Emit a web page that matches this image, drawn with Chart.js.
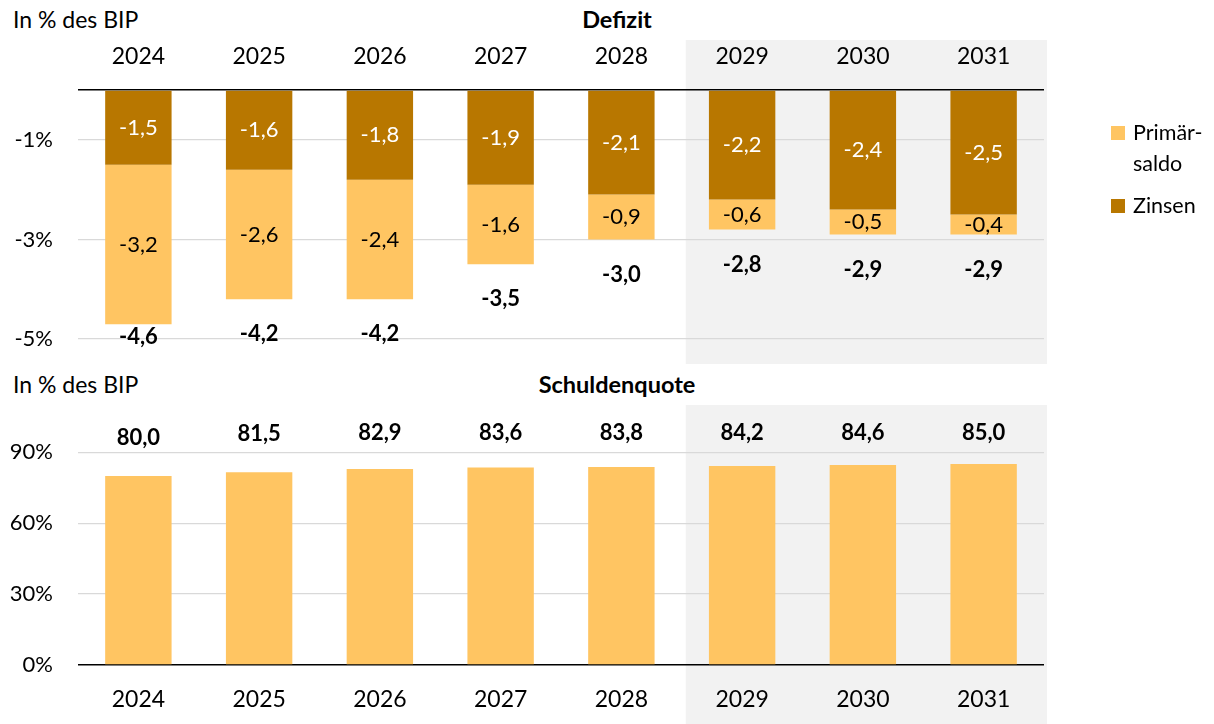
<!DOCTYPE html>
<html>
<head>
<meta charset="utf-8">
<script src="https://cdn.jsdelivr.net/npm/chart.js@4.4.1/dist/chart.umd.min.js"></script>
<style>
  body { margin: 0; background: #fff; font-family: Lato, sans-serif; }
  #wrap { position: relative; width: 1214px; height: 724px; overflow: hidden; }
  .cv { position: absolute; left: 0; }
  .txt { position: absolute; color: #000; white-space: nowrap; }
  .unit { font-size: 23px; left: 13px; }
  .ttl { font-size: 23.5px; font-weight: bold; width: 300px; left: 467px; text-align: center; }
  .leg { position: absolute; left: 1111px; font-size: 21.5px; line-height: 31px; }
  .leg .sq { position: absolute; left: 0; width: 14px; height: 14px; }
  .leg .lb { position: absolute; left: 22px; }
</style>
</head>
<body>
<div id="wrap">
  <div class="txt unit" style="top:5px">In % des BIP</div>
  <div class="txt ttl" style="top:5px">Defizit</div>
  <div class="txt unit" style="top:370px">In % des BIP</div>
  <div class="txt ttl" style="top:370px">Schuldenquote</div>
  <div class="cv" style="top:0;width:1214px;height:368px"><canvas id="deficitChart"></canvas></div>
  <div class="cv" style="top:368px;width:1214px;height:356px"><canvas id="debtChart"></canvas></div>
  <div class="leg" style="top:117px">
    <div class="sq" style="top:9px;background:#FFC562"></div>
    <div class="lb" style="top:0">Primär-<br>saldo</div>
  </div>
  <div class="leg" style="top:190px">
    <div class="sq" style="top:9px;background:#B87700"></div>
    <div class="lb" style="top:0">Zinsen</div>
  </div>
</div>
<script>
const years = ['2024', '2025', '2026', '2027', '2028', '2029', '2030', '2031'];
const forecastFrom = '2029';
const zinsen = [-1.5, -1.6, -1.8, -1.9, -2.1, -2.2, -2.4, -2.5];
const primaersaldo = [-3.2, -2.6, -2.4, -1.6, -0.9, -0.6, -0.5, -0.4];
const defizit = [-4.6, -4.2, -4.2, -3.5, -3.0, -2.8, -2.9, -2.9];
const schuldenquote = [80.0, 81.5, 82.9, 83.6, 83.8, 84.2, 84.6, 85.0];
const deficitTicks = [0, -1, -3, -5];
const debtTicks = [0, 30, 60, 90];

const FONT = 'Lato';
const colZinsen = '#B87700';
const colPrimaer = '#FFC562';
const colGrid = '#D9D9D9';

const fmt = v => v.toFixed(1).replace('.', ',');

// grey band behind the projection years
function shadePlugin(topExtra, bottomExtra) {
    return {
        id: 'shade',
        beforeDraw(chart) {
            const x = chart.scales.x;
            const i = years.indexOf(forecastFrom);
            const left = (x.getPixelForValue(i - 1) + x.getPixelForValue(i)) / 2 + 4;
            const area = chart.chartArea;
            const c = chart.ctx;
            c.save();
            c.fillStyle = '#F2F2F2';
            c.fillRect(left, area.top - topExtra, area.right + 3 - left, area.bottom + bottomExtra - (area.top - topExtra));
            c.restore();
        }
    };
}

const deficitLabels = {
    id: 'deficitLabels',
    afterDatasetsDraw(chart) {
        const c = chart.ctx;
        const area = chart.chartArea;
        c.save();
        c.textAlign = 'center';
        c.textBaseline = 'middle';
        chart.data.datasets.forEach((ds, di) => {
            chart.getDatasetMeta(di).data.forEach((bar, i) => {
                c.font = '22px ' + FONT;
                c.fillStyle = di === 0 ? '#fff' : '#000';
                c.fillText(fmt(ds.data[i]), bar.x, (bar.y + bar.base) / 2);
            });
        });
        // totals below the stack
        chart.getDatasetMeta(1).data.forEach((bar, i) => {
            const bottom = Math.max(bar.y, bar.base);
            const y = Math.min(bottom + 35, area.bottom - 27);
            c.font = 'bold 22px ' + FONT;
            c.fillStyle = '#000';
            c.fillText(fmt(defizit[i]), bar.x, y);
        });
        c.restore();
    }
};

const debtLabels = {
    id: 'debtLabels',
    afterDatasetsDraw(chart) {
        const c = chart.ctx;
        const area = chart.chartArea;
        c.save();
        c.textAlign = 'center';
        c.textBaseline = 'middle';
        c.font = 'bold 22px ' + FONT;
        c.fillStyle = '#000';
        chart.getDatasetMeta(0).data.forEach((bar, i) => {
            const y = Math.max(bar.y - 38, area.top + 28);
            c.fillText(fmt(schuldenquote[i]), bar.x, y);
        });
        c.restore();
    }
};

function yAxis(min, max, tickValues) {
    return {
        min: min,
        max: max,
        afterBuildTicks: s => { s.ticks = tickValues.map(v => ({ value: v })); },
        afterFit: s => {
            s.width = 78;
            // no extra room for the end labels, the layout padding handles it
            s.paddingTop = 0;
            s.paddingBottom = 0;
        },
        border: { display: false },
        grid: {
            drawTicks: false,
            color: ctx => ctx.tick && ctx.tick.value === 0 ? '#000' : colGrid,
            lineWidth: ctx => ctx.tick && ctx.tick.value === 0 ? 1.6 : 1.3
        },
        ticks: {
            padding: 25,
            color: '#000',
            font: { family: FONT, size: 22 },
            callback: (v) => (min < 0 && v === 0) ? '' : v + '%'
        }
    };
}

new Chart(document.getElementById('deficitChart'), {
    type: 'bar',
    data: {
        labels: years,
        datasets: [
            { label: 'Zinsen', data: zinsen, backgroundColor: colZinsen, stack: 's' },
            { label: 'Primärsaldo', data: primaersaldo, backgroundColor: colPrimaer, stack: 's' }
        ]
    },
    options: {
        responsive: true,
        maintainAspectRatio: false,
        animation: false,
        layout: { padding: { top: 40, right: 170, bottom: 4, left: 0 } },
        datasets: { bar: { barPercentage: 0.55, categoryPercentage: 1 } },
        plugins: { legend: { display: false }, tooltip: { enabled: false } },
        scales: {
            x: {
                position: 'top',
                stacked: true,
                afterFit: s => { s.height = 50; },
                border: { display: false },
                grid: { display: false },
                ticks: { padding: 12, color: '#000', font: { family: FONT, size: 23 } }
            },
            y: Object.assign(yAxis(-5.5, 0, deficitTicks), { stacked: true })
        }
    },
    plugins: [shadePlugin(50, 0), deficitLabels]
});

new Chart(document.getElementById('debtChart'), {
    type: 'bar',
    data: {
        labels: years,
        datasets: [
            { label: 'Schuldenquote', data: schuldenquote, backgroundColor: colPrimaer }
        ]
    },
    options: {
        responsive: true,
        maintainAspectRatio: false,
        animation: false,
        layout: { padding: { top: 37, right: 170, bottom: 0, left: 0 } },
        datasets: { bar: { barPercentage: 0.55, categoryPercentage: 1 } },
        plugins: { legend: { display: false }, tooltip: { enabled: false } },
        scales: {
            x: {
                afterFit: s => { s.height = 59; },
                border: { display: false },
                grid: { display: false },
                ticks: { padding: 13, color: '#000', font: { family: FONT, size: 23 } }
            },
            y: yAxis(0, 110, debtTicks)
        }
    },
    plugins: [shadePlugin(0, 60), debtLabels]
});
</script>
</body>
</html>
